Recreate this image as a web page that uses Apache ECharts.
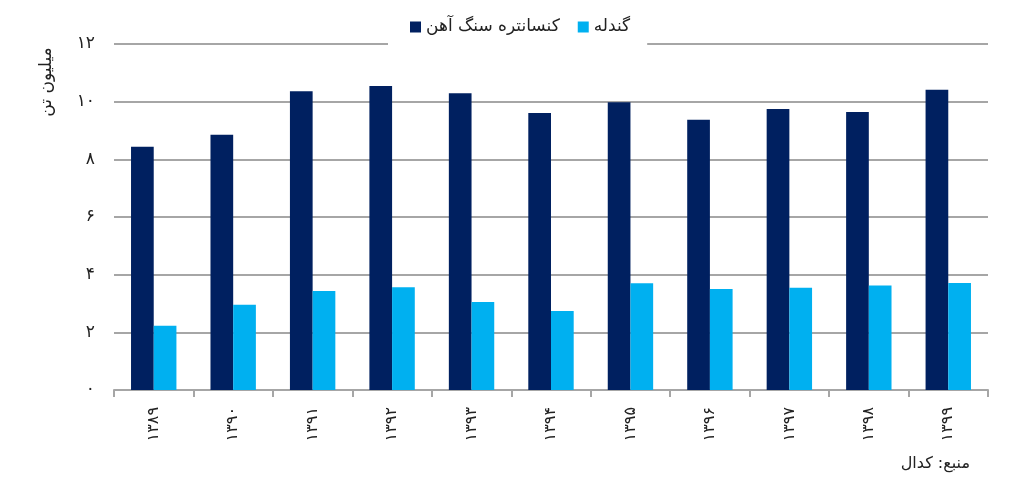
<!DOCTYPE html>
<html>
<head>
<meta charset="utf-8">
<script src="https://cdn.jsdelivr.net/npm/echarts@6/dist/echarts.min.js"></script>
<style>html,body{margin:0;padding:0;background:#fff}#c{width:1024px;height:499px}</style>
</head>
<body>
<div id="c"></div>
<script>
var categories = ['۱۳۸۹','۱۳۹۰','۱۳۹۱','۱۳۹۲','۱۳۹۳','۱۳۹۴','۱۳۹۵','۱۳۹۶','۱۳۹۷','۱۳۹۸','۱۳۹۹'];
var concentrate = [8.44, 8.85, 10.36, 10.54, 10.29, 9.61, 9.98, 9.37, 9.75, 9.64, 10.41];
var pellet = [2.23, 2.96, 3.43, 3.56, 3.05, 2.74, 3.70, 3.50, 3.55, 3.62, 3.71];
var seriesNames = ['کنسانتره سنگ آهن', 'گندله'];
var yTickLabels = {0:'۰',2:'۲',4:'۴',6:'۶',8:'۸',10:'۱۰',12:'۱۲'};
var yAxisTitle = 'میلیون تن';
var sourceText = 'منبع: کدال';

var font = 'DejaVu Sans';
var chart = echarts.init(document.getElementById('c'));
chart.setOption({
  animation: false,
  textStyle: {fontFamily: font},
  grid: {left: 114, right: 36, top: 44, bottom: 109},
  legend: {
    data: seriesNames,
    left: 388, top: 8,
    padding: [8, 17, 10, 22],
    backgroundColor: '#fff',
    icon: 'rect', itemWidth: 11, itemHeight: 11, itemGap: 18,
    textStyle: {fontSize: 17, color: '#222', fontFamily: font, lineHeight: 22},
    z: 10
  },
  xAxis: {
    type: 'category',
    data: categories,
    axisLine: {lineStyle: {color: '#a6a6a6', width: 2}},
    axisTick: {show: true, length: 7, lineStyle: {color: '#a6a6a6', width: 2}},
    axisLabel: {rotate: 90, margin: 17, fontSize: 16, color: '#222', fontFamily: font}
  },
  yAxis: {
    type: 'value', min: 0, max: 12, interval: 2,
    axisLine: {show: false}, axisTick: {show: false},
    splitLine: {lineStyle: {color: '#a6a6a6', width: 2}},
    axisLabel: {margin: 19, fontSize: 17, color: '#222', fontFamily: font,
      formatter: function (v) { return yTickLabels[v]; }}
  },
  graphic: [
    {type: 'text', x: 47, y: 82, rotation: Math.PI / 2,
     style: {text: yAxisTitle, fontSize: 17, fill: '#222', fontFamily: font, align: 'center', verticalAlign: 'middle'}},
    {type: 'text', right: 54, top: 456,
     style: {text: sourceText, fontSize: 16, fill: '#222', fontFamily: font}}
  ],
  series: [
    {name: seriesNames[0], type: 'bar', data: concentrate, barWidth: 22.7, barGap: '0%',
     itemStyle: {color: '#002060'}},
    {name: seriesNames[1], type: 'bar', data: pellet, barWidth: 22.7, barGap: '0%',
     itemStyle: {color: '#00b0f0'}}
  ]
});
</script>
</body>
</html>
